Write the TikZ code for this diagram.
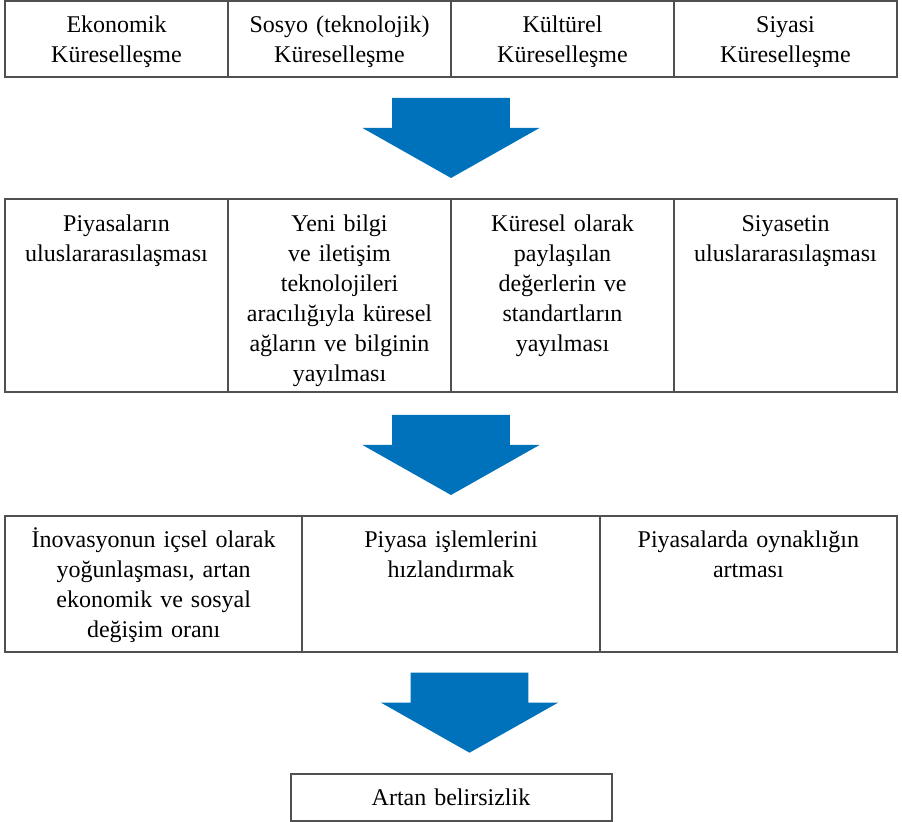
\documentclass[tikz,border=0pt]{standalone}
\usepackage{fontspec}
\setmainfont{Liberation Serif}
\usetikzlibrary{positioning}
\definecolor{arrowblue}{RGB}{0,114,188}
\definecolor{framegray}{RGB}{80,80,80}

\begin{document}
\begin{tikzpicture}[cell/.style={draw=framegray, line width=1pt, inner sep=0pt, outer sep=0pt,
      align=center, text height=16pt, font=\fontsize{12}{15}\selectfont},
    quarter/.style={cell, text width=111.5pt},
    third/.style={cell, text width=148.67pt},
    bigarrow/.pic={\fill[arrowblue] (-29.4pt,0) -- (29.4pt,0) -- (29.4pt,-15pt)
      -- (44.25pt,-15pt) -- (0,-40pt) -- (-44.25pt,-15pt) -- (-29.4pt,-15pt) -- cycle;}]
    \useasboundingbox (0,0) rectangle (451pt,-411pt);

    % kuresellesme turleri
    \node[quarter, text depth=22pt, anchor=north west] (k1) at (2.5pt,-0.5pt) {Ekonomik\\Küreselleşme};
    \node[quarter, text depth=22pt, right=0pt of k1] (k2) {Sosyo (teknolojik)\\Küreselleşme};
    \node[quarter, text depth=22pt, right=0pt of k2] (k3) {Kültürel\\Küreselleşme};
    \node[quarter, text depth=22pt, right=0pt of k3] (k4) {Siyasi\\Küreselleşme};

    \pic at ([yshift=-10.5pt]k2.south east) {bigarrow};

    % yayilma
    \node[quarter, text depth=80.25pt, below=61.25pt of k1.south west, anchor=north west] (y1)
      {Piyasaların\\uluslararasılaşması};
    \node[quarter, text depth=80.25pt, right=0pt of y1] (y2)
      {Yeni bilgi\\ve iletişim\\teknolojileri\\aracılığıyla küresel\\ağların ve bilginin\\yayılması};
    \node[quarter, text depth=80.25pt, right=0pt of y2] (y3)
      {Küresel olarak\\paylaşılan\\değerlerin ve\\standartların\\yayılması};
    \node[quarter, text depth=80.25pt, right=0pt of y3] (y4)
      {Siyasetin\\uluslararasılaşması};

    \pic at ([yshift=-11.5pt]y2.south east) {bigarrow};

    % sonuclar
    \node[third, text depth=52pt, below=61.85pt of y1.south west, anchor=north west] (s1)
      {İnovasyonun içsel olarak\\yoğunlaşması, artan\\ekonomik ve sosyal\\değişim oranı};
    \node[third, text depth=52pt, right=0pt of s1] (s2) {Piyasa işlemlerini\\hızlandırmak};
    \node[third, text depth=52pt, right=0pt of s2] (s3) {Piyasalarda oynaklığın\\artması};

    \pic at ([xshift=9.25pt, yshift=-10.5pt]s2.south) {bigarrow};

    \node[cell, text width=160.5pt, text depth=7.5pt, below=61.15pt of s2] (unc) {Artan belirsizlik};
\end{tikzpicture}
\end{document}
